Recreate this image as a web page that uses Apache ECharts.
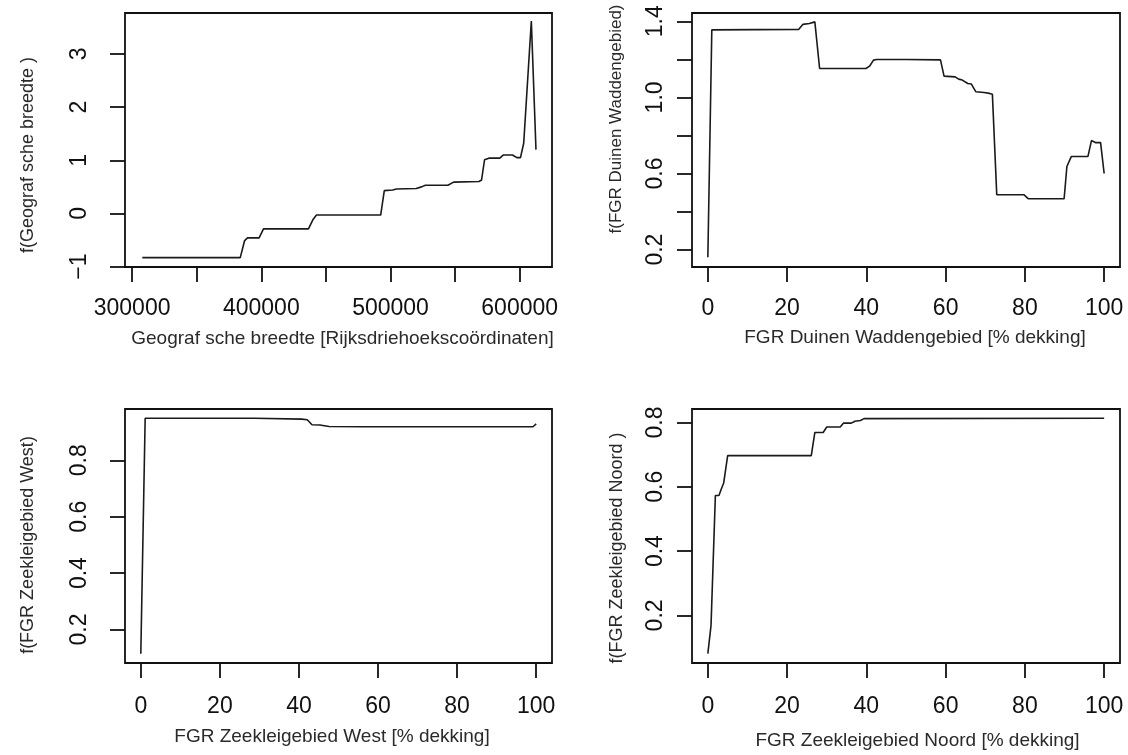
<!DOCTYPE html>
<html>
<head>
<meta charset="utf-8">
<script src="https://cdn.jsdelivr.net/npm/echarts@6/dist/echarts.min.js"></script>
<style>
html,body{margin:0;padding:0;background:#fff;}
#chart{width:1128px;height:755px;}
</style>
</head>
<body>
<div id="chart"></div>
<script>
// ---- Panel 1: Geografische breedte ----
var xs1 = [307900, 383700, 387100, 389300, 398300, 401700, 436500, 439900, 442700, 492400, 495200, 501700, 504500, 519900, 524000, 527000, 544400, 548900, 568500, 570500, 572800, 576100, 584600, 587400, 594400, 597800, 600600, 603100, 609000, 612600];
var ys1 = [-0.83, -0.83, -0.51, -0.46, -0.46, -0.29, -0.29, -0.12, -0.03, -0.03, 0.43, 0.44, 0.46, 0.47, 0.50, 0.53, 0.53, 0.59, 0.60, 0.63, 1.01, 1.04, 1.04, 1.10, 1.10, 1.05, 1.05, 1.32, 3.62, 1.20];
// ---- Panel 2: FGR Duinen Waddengebied ----
var xs2 = [0, 1.0, 12, 22.9, 24.0, 25.6, 27.0, 28.2, 39.9, 40.8, 41.8, 42.6, 50, 58.7, 59.6, 62.4, 63.3, 64.2, 65.6, 66.5, 67.6, 69.7, 71.1, 71.8, 72.9, 79.8, 80.9, 89.9, 90.6, 91.7, 95.9, 96.8, 97.9, 99.1, 100];
var ys2 = [0.16, 1.355, 1.356, 1.357, 1.384, 1.388, 1.397, 1.152, 1.152, 1.164, 1.196, 1.199, 1.199, 1.197, 1.112, 1.108, 1.096, 1.091, 1.073, 1.070, 1.030, 1.026, 1.021, 1.016, 0.488, 0.488, 0.467, 0.467, 0.637, 0.689, 0.689, 0.773, 0.762, 0.762, 0.600];
// ---- Panel 3: FGR Zeekleigebied West ----
var xs3 = [0, 1.1, 28.7, 40.7, 42.1, 43.3, 45.3, 47.6, 56.4, 99.2, 100];
var ys3 = [0.114, 0.949, 0.949, 0.946, 0.944, 0.926, 0.925, 0.920, 0.919, 0.919, 0.929];
// ---- Panel 4: FGR Zeekleigebied Noord ----
var xs4 = [0, 0.8, 1.9, 2.8, 3.3, 4.0, 5.0, 26.1, 27.0, 29.1, 30.0, 33.4, 34.2, 36.2, 37.1, 38.5, 39.4, 100];
var ys4 = [0.081, 0.169, 0.573, 0.573, 0.590, 0.612, 0.697, 0.697, 0.769, 0.769, 0.786, 0.786, 0.798, 0.798, 0.804, 0.806, 0.812, 0.813];

// ---- Tick values / labels ----
var xTicks1 = [300000, 350000, 400000, 450000, 500000, 550000, 600000];
var xLabels1 = [300000, 400000, 500000, 600000];
var yTicks1 = [-1, 0, 1, 2, 3];
var pctTicks = [0, 20, 40, 60, 80, 100];
var yTicks2 = [0.2, 0.4, 0.6, 0.8, 1.0, 1.2, 1.4];
var yLabels2 = [0.2, 0.6, 1.0, 1.4];
var yTicks3 = [0.2, 0.4, 0.6, 0.8];
var yTicks4 = [0.2, 0.4, 0.6, 0.8];

// ---- Axis titles ----
var xTitles = [
  'Geograf sche breedte [Rijksdriehoekscoördinaten]',
  'FGR Duinen Waddengebied [% dekking]',
  'FGR Zeekleigebied West [% dekking]',
  'FGR Zeekleigebied Noord [% dekking]'
];
var yTitles = [
  'f(Geograf sche breedte )',
  'f(FGR Duinen Waddengebied)',
  'f(FGR Zeekleigebied West)',
  'f(FGR Zeekleigebied Noord )'
];

function pairs(xs, ys) { return xs.map(function (x, i) { return [x, ys[i]]; }); }

var FONT = "'Liberation Sans', Arial, sans-serif";
var grids = [
  {left: 125, top: 13, width: 427, height: 254},
  {left: 692, top: 13, width: 428, height: 254},
  {left: 125, top: 409, width: 427, height: 254},
  {left: 692, top: 409, width: 428, height: 254}
];
grids.forEach(function (g) { g.show = true; g.borderColor = '#111'; g.borderWidth = 1.8; g.backgroundColor = 'transparent'; });

var xRanges = [[294500, 625000], [-4, 104], [-4, 104], [-4, 104]];
var yRanges = [[-1.007, 3.77], [0.1085, 1.4436], [0.081, 0.982], [0.052, 0.842]];
var xTickSets = [xTicks1, pctTicks, pctTicks, pctTicks];
var xLabelSets = [xLabels1, pctTicks, pctTicks, pctTicks];
var yTickSets = [yTicks1, yTicks2, yTicks3, yTicks4];
var yLabelSets = [yTicks1, yLabels2, yTicks3, yTicks4];
var intFmt = function (v) { var r = Math.round(v); return r < 0 ? '\u2212' + Math.abs(r) : String(r); };
var yFmt = [intFmt,
            function (v) { return v.toFixed(1); },
            function (v) { return v.toFixed(1); },
            function (v) { return v.toFixed(1); }];
var xLabelMargin = [30, 30, 32, 32];
var yLabelMargin = [34, 25, 34, 25];
var xNameGap = [62, 61, 64, 68];
var xNamePad = [[0, 0, 0, 8], [0, 0, 0, 18], [0, 13, 0, 0], [0, 0, 0, 23]];
var yNameGap = [88, 67, 88, 66];
var yNameSize = [18, 17, 18, 18];
var yNamePad = [[0, 30, 0, 0], [0, 0, 0, 42], [0, 18, 0, 0], [0, 24, 0, 0]];

var xAxes = [], yAxes = [];
for (var i = 0; i < 4; i++) {
  xAxes.push({
    type: 'value', gridIndex: i, min: xRanges[i][0], max: xRanges[i][1], position: 'bottom',
    axisLine: {show: false, onZero: false},
    splitLine: {show: false},
    axisTick: {show: true, inside: false, length: 15, customValues: xTickSets[i], lineStyle: {color: '#111', width: 1.8}},
    axisLabel: {show: true, margin: xLabelMargin[i], customValues: xLabelSets[i], color: '#111', fontSize: 23, fontFamily: FONT,
                showMinLabel: true, showMaxLabel: true, hideOverlap: false, formatter: intFmt},
    name: xTitles[i], nameLocation: 'middle', nameGap: xNameGap[i],
    nameTextStyle: {color: '#2a2a2a', fontSize: 19, fontFamily: FONT, padding: xNamePad[i]}
  });
  yAxes.push({
    type: 'value', gridIndex: i, min: yRanges[i][0], max: yRanges[i][1], position: 'left',
    axisLine: {show: false, onZero: false},
    splitLine: {show: false},
    axisTick: {show: true, inside: false, length: 15, customValues: yTickSets[i], lineStyle: {color: '#111', width: 1.8}},
    axisLabel: {show: true, margin: yLabelMargin[i], rotate: 90, customValues: yLabelSets[i], color: '#111', fontSize: 23, fontFamily: FONT,
                showMinLabel: true, showMaxLabel: true, hideOverlap: false, formatter: yFmt[i]},
    name: yTitles[i], nameLocation: 'middle', nameGap: yNameGap[i],
    nameTextStyle: {color: '#2a2a2a', fontSize: yNameSize[i], fontFamily: FONT, padding: yNamePad[i]}
  });
}

var dataSets = [pairs(xs1, ys1), pairs(xs2, ys2), pairs(xs3, ys3), pairs(xs4, ys4)];
var series = dataSets.map(function (d, i) {
  return {
    type: 'line', xAxisIndex: i, yAxisIndex: i, data: d,
    showSymbol: false, symbol: 'none', smooth: false, animation: false,
    lineStyle: {color: '#1a1a1a', width: 1.6}
  };
});

var chart = echarts.init(document.getElementById('chart'), null, {renderer: 'canvas'});
chart.setOption({
  animation: false,
  backgroundColor: '#ffffff',
  grid: grids,
  xAxis: xAxes,
  yAxis: yAxes,
  series: series
});
</script>
</body>
</html>
